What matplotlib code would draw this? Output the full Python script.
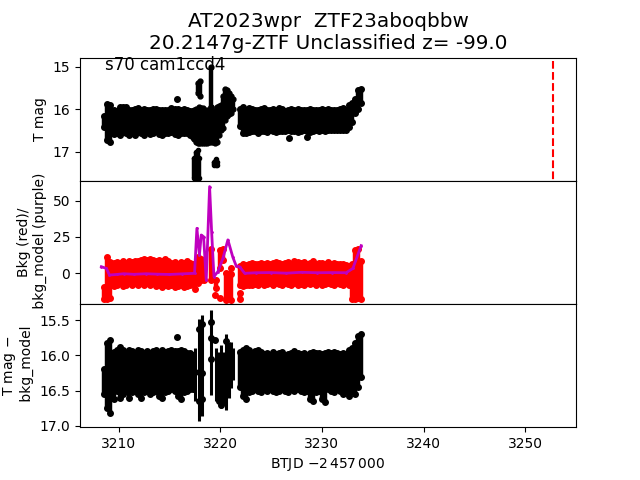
#!/usr/bin/env python
# coding=utf-8

import matplotlib
matplotlib.use('Agg')
import matplotlib.pyplot as plt

# epochs shared by the quiet parts of the light curve
t_quiet1 = [3208.6, 3208.9, 3209.2, 3209.5, 3209.8, 3210.1, 3210.4, 3210.7, 3211.0, 3211.3, 3211.6,
            3211.9, 3212.2, 3212.5, 3212.8, 3213.1, 3213.4, 3213.7, 3214.0, 3214.3, 3214.6, 3214.9,
            3215.2, 3215.5, 3215.8, 3216.1, 3216.4, 3216.7, 3217.0, 3217.3]
t_quiet2 = [3221.9, 3222.2, 3222.5, 3222.8, 3223.1, 3223.4, 3223.7, 3224.0, 3224.3, 3224.6, 3224.9,
            3225.2, 3225.5, 3225.8, 3226.1, 3226.4, 3226.7, 3227.0, 3227.3, 3227.6, 3227.9, 3228.2,
            3228.5, 3228.8, 3229.1, 3229.4, 3229.7, 3230.0, 3230.3, 3230.6, 3230.9, 3231.2, 3231.5,
            3231.8, 3232.1, 3232.4, 3232.7, 3233.0, 3233.3, 3233.6, 3233.85]

# T mag, bright and faint edge of the band
mag_hi1 = [16.15, 15.88, 15.90, 16.02, 16.04, 15.96, 15.94, 15.96, 16.02, 16.03, 16.00, 15.98, 16.02,
           16.00, 16.03, 16.02, 15.99, 16.00, 16.02, 16.03, 16.02, 16.03, 15.98, 15.99, 16.00, 16.02,
           16.00, 16.02, 16.04, 16.05]
mag_lo1 = [16.42, 16.72, 16.78, 16.58, 16.55, 16.60, 16.54, 16.57, 16.60, 16.55, 16.60, 16.54, 16.57,
           16.60, 16.54, 16.59, 16.57, 16.52, 16.59, 16.60, 16.55, 16.57, 16.53, 16.59, 16.60, 16.57,
           16.55, 16.57, 16.60, 16.66]
mag_hi2 = [16.00, 15.96, 16.03, 15.97, 16.00, 16.02, 16.03, 16.00, 15.98, 16.03, 16.02, 16.00, 16.02,
           15.98, 16.00, 16.04, 16.02, 16.00, 16.02, 16.00, 16.03, 16.02, 16.03, 16.00, 16.02, 16.03,
           16.02, 16.00, 16.03, 16.00, 16.02, 16.03, 16.02, 16.00, 15.98, 16.02, 15.90, 15.85, 15.75,
           15.55, 15.52]
mag_lo2 = [16.40, 16.55, 16.57, 16.53, 16.52, 16.52, 16.55, 16.52, 16.51, 16.53, 16.50, 16.52, 16.53,
           16.52, 16.51, 16.52, 16.50, 16.52, 16.51, 16.53, 16.51, 16.50, 16.52, 16.53, 16.51, 16.50,
           16.51, 16.50, 16.51, 16.50, 16.50, 16.50, 16.50, 16.50, 16.48, 16.48, 16.42, 16.30, 16.10,
           16.00, 15.85]
t_flare = [3217.45, 3217.6, 3217.77, 3217.95, 3218.1, 3218.3, 3218.5, 3218.7, 3218.9, 3219.1, 3219.3,
           3219.5, 3219.7, 3219.9, 3220.1, 3220.3, 3220.5, 3220.7, 3220.9, 3221.1, 3221.3,
           3217.77, 3218.05, 3219.1]
flare_hi = [16.03, 16.00, 16.00, 15.95, 15.98, 15.98, 16.05, 16.02, 16.02, 15.95, 16.05, 16.05, 15.95,
            15.92, 15.90, 15.70, 15.52, 15.55, 15.62, 15.68, 15.75,
            15.38, 15.35, 15.00]
flare_lo = [16.70, 16.78, 16.80, 16.80, 16.80, 16.80, 16.80, 16.80, 16.78, 16.78, 16.78, 16.80, 16.78,
            16.60, 16.50, 16.45, 16.25, 16.15, 16.12, 16.10, 16.00,
            15.62, 15.68, 15.95]
t_flare_low = [3217.45, 3217.6, 3217.77, 3217.95, 3219.4, 3219.54, 3219.68]
flare_low_hi = [17.15, 17.00, 16.95, 17.15, 17.25, 17.17, 17.25]
flare_low_lo = [17.62, 17.62, 17.62, 17.62, 17.32, 17.32, 17.32]
t_out_top = [3215.73, 3226.75, 3228.55]
mag_out_top = [15.75, 16.68, 16.65]
t_marker = 3252.72
marker_mag = [14.88, 17.7]

# background flux, top and bottom edge of the band
bkg_hi1 = [-10.0, 11.0, 7.5, 7.0, 7.5, 7.0, 8.0, 7.0, 8.0, 7.5, 8.5, 8.0, 9.0, 9.5, 9.0, 10.0, 9.0,
           8.0, 9.0, 8.5, 9.5, 8.0, 7.0, 7.5, 6.5, 7.5, 7.0, 8.0, 7.0, 6.5]
bkg_lo1 = [-18.0, -18.0, -17.0, -9.0, -8.0, -7.0, -9.0, -8.0, -7.0, -8.0, -7.0, -8.0, -7.0, -8.0,
           -7.0, -8.0, -7.0, -9.0, -8.0, -10.0, -8.0, -9.0, -8.0, -10.0, -9.0, -8.0, -10.0, -9.0,
           -8.0, -7.0]
bkg_hi2 = [5.0, 6.0, 5.5, 6.0, 7.0, 6.0, 6.5, 7.0, 6.5, 7.0, 6.0, 7.0, 7.5, 7.0, 6.5, 7.0, 7.5,
           6.5, 8.0, 7.5, 7.0, 7.5, 6.5, 7.0, 8.5, 6.5, 7.0, 7.0, 6.5, 7.5, 6.0, 7.0, 6.5, 6.0, 6.0,
           5.5, 5.0, 6.5, 16.0, 17.0, 8.0]
bkg_lo2 = [-8.0, -9.0, -8.0, -8.5, -8.0, -7.5, -8.0, -7.0, -8.0, -7.5, -7.0, -8.0, -7.0, -7.5, -8.0,
           -7.0, -7.5, -8.0, -7.0, -8.0, -7.5, -8.0, -7.0, -7.5, -7.0, -8.0, -7.0, -8.0, -7.5, -7.0,
           -7.5, -8.0, -7.0, -7.5, -8.0, -7.0, -8.0, -18.0, -18.0, -17.0, -18.0]
bkg_flare_t = [3217.5, 3217.8, 3218.1, 3218.4, 3219.1, 3219.6, 3219.93, 3220.26, 3220.6, 3220.85, 3221.1,
               3221.9]
bkg_flare_hi = [5.0, 11.4, 10.0, 6.0, 17.0, -5.0, 16.0, 17.0, -0.2, -1.0, -0.5, -14.0]
bkg_flare_lo = [-11.0, -7.0, -5.0, -5.0, -4.9, -10.7, 3.2, 9.0, -18.5, -18.0, -18.5, -18.0]
t_bkg_out = [3219.44, 3219.93, 3221.08]
bkg_out = [-15.3, -17.6, 3.2]

# smooth background model
model_t = [3208.3, 3208.8, 3209.1, 3209.8, 3210.5, 3211.5, 3212.7, 3213.8, 3215.0, 3216.2, 3217.47,
           3217.7, 3217.95, 3218.13, 3218.36, 3218.62, 3218.95, 3219.15, 3219.38, 3219.77, 3220.26,
           3220.75, 3221.24, 3221.57, 3221.9, 3222.4, 3223.5, 3225.0, 3226.5, 3228.0, 3229.5, 3231.0,
           3232.39, 3233.05, 3233.86]
model_val = [4.4, 3.2, -1.4, -1.0, -0.5, -0.9, -0.5, -0.8, -1.0, -0.6, -0.2, 31.0, 12.5, 26.4, 25.2,
             -5.0, 60.0, 28.7, -2.5, 1.0, 10.2, 23.0, 10.9, 4.9, 4.4, -0.2, 0.2, 0.3, -0.1, 0.5, 0.2,
             0.3, 0.2, 3.2, 19.0]

# T mag minus background model
res_hi1 = [16.20, 15.82, 15.78, 15.95, 15.92, 15.88, 15.92, 15.96, 15.92, 15.94, 15.96, 15.92, 15.94,
           15.96, 15.94, 15.96, 15.94, 15.92, 15.96, 15.92, 15.95, 15.94, 15.92, 15.94, 15.94, 15.92,
           15.94, 15.96, 15.96, 16.00]
res_lo1 = [16.55, 16.75, 16.82, 16.62, 16.50, 16.60, 16.55, 16.50, 16.60, 16.52, 16.50, 16.55, 16.60,
           16.52, 16.50, 16.55, 16.52, 16.50, 16.58, 16.60, 16.52, 16.50, 16.48, 16.50, 16.58, 16.62,
           16.52, 16.50, 16.48, 16.48]
res_hi2 = [15.95, 15.92, 15.90, 15.92, 15.96, 15.94, 15.92, 15.95, 15.98, 15.96, 16.00, 15.95, 15.98,
           15.96, 15.95, 16.00, 15.98, 15.96, 15.94, 15.96, 15.98, 15.96, 16.00, 15.96, 15.95, 15.97,
           15.96, 15.98, 15.96, 15.95, 15.97, 15.95, 15.96, 15.98, 15.96, 15.98, 15.92, 15.90, 15.82,
           15.72, 15.70]
res_lo2 = [16.45, 16.58, 16.62, 16.52, 16.50, 16.48, 16.50, 16.52, 16.48, 16.50, 16.48, 16.50, 16.52,
           16.50, 16.48, 16.50, 16.52, 16.48, 16.50, 16.48, 16.50, 16.52, 16.50, 16.62, 16.65, 16.52,
           16.50, 16.62, 16.66, 16.48, 16.50, 16.52, 16.48, 16.50, 16.55, 16.50, 16.58, 16.50, 16.55,
           16.45, 16.30]
res_flare_t = [3217.5, 3217.9, 3218.23, 3219.11, 3219.6, 3219.77, 3220.1, 3220.36, 3220.6, 3220.82,
               3221.08, 3221.3]
res_flare_hi = [15.90, 15.48, 15.43, 15.36, 15.90, 15.95, 15.85, 15.95, 15.69, 15.81, 15.81, 15.90]
res_flare_lo = [16.65, 16.93, 16.86, 16.56, 16.65, 16.65, 16.75, 16.70, 16.77, 16.60, 16.46, 16.35]
t_res_dots = [3217.9, 3218.23, 3217.9, 3218.23, 3217.9, 3218.23, 3219.11, 3219.11, 3219.11, 3219.5,
              3219.9, 3220.35, 3220.6, 3220.85, 3220.1]
res_dots = [15.62, 15.55, 16.24, 16.25, 16.65, 16.62, 15.52, 15.75, 16.05, 15.78, 16.65, 16.10, 15.80,
            15.90, 16.70]
t_out_res = [3215.73]
res_out = [15.74]

xmin = 3206.2
xmax = 3255.0

fig, (ax1, ax2, ax3) = plt.subplots(3, 1, sharex=True, figsize=(6.4, 4.8), dpi=100)
fig.subplots_adjust(hspace=0)


def band(ax, t, hi, lo, color, ms=8):
    # draw a band of points joined by vertical error-like bars
    ax.vlines(t, hi, lo, color=color, lw=3.2)
    ax.plot(t, hi, '.', color=color, ms=ms)
    ax.plot(t, lo, '.', color=color, ms=ms)


### top panel
band(ax1, t_quiet1, mag_hi1, mag_lo1, 'k')
band(ax1, t_quiet2, mag_hi2, mag_lo2, 'k')
band(ax1, t_flare, flare_hi, flare_lo, 'k', ms=7)
band(ax1, t_flare_low, flare_low_hi, flare_low_lo, 'k', ms=6)
ax1.plot(t_out_top, mag_out_top, 'k.', ms=8)
ax1.plot([t_marker, t_marker], marker_mag, 'r--')
ax1.set_ylim(17.68, 14.79)
ax1.set_yticks([15, 16, 17])
ax1.set_ylabel('T mag')
ax1.text(3208.7, 14.97, 's70 cam1ccd4', fontsize=12, va='center')
ax1.set_title('AT2023wpr  ZTF23aboqbbw\n20.2147g-ZTF Unclassified z= -99.0', fontsize=14.4)

### middle panel
band(ax2, t_quiet1, bkg_hi1, bkg_lo1, 'r')
band(ax2, t_quiet2, bkg_hi2, bkg_lo2, 'r')
band(ax2, bkg_flare_t, bkg_flare_hi, bkg_flare_lo, 'r')
ax2.plot(t_bkg_out, bkg_out, 'r.', ms=8)
ax2.plot(model_t, model_val, color='m', marker='.', ms=2, lw=2)
ax2.set_ylim(-21.5, 64)
ax2.set_yticks([0, 25, 50])
ax2.set_ylabel('Bkg (red)/\n bkg_model (purple)')

### bottom panel
band(ax3, t_quiet1, res_hi1, res_lo1, 'k')
band(ax3, t_quiet2, res_hi2, res_lo2, 'k')
ax3.vlines(res_flare_t, res_flare_hi, res_flare_lo, color='k', lw=2.2)
ax3.plot(t_res_dots, res_dots, 'k.', ms=8)
ax3.plot(t_out_res, res_out, 'k.', ms=8)
ax3.set_ylim(17.02, 15.27)
ax3.set_yticks([15.5, 16.0, 16.5, 17.0])
ax3.set_ylabel('T mag $-$\n bkg_model')
ax3.set_xlim(xmin, xmax)
ax3.set_xticks([3210, 3220, 3230, 3240, 3250])
ax3.set_xlabel(r'BTJD $-2\,457\,000$')

plt.savefig('out.png', dpi=100)
